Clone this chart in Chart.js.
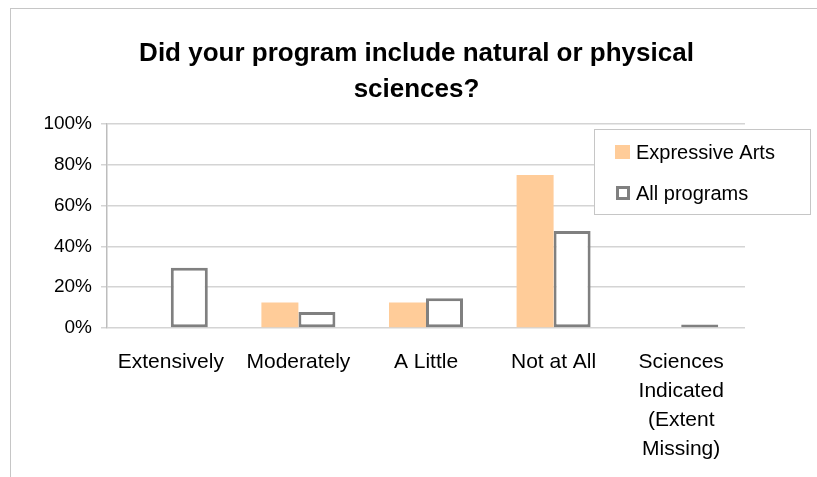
<!DOCTYPE html>
<html>
<head>
<meta charset="utf-8">
<script src="https://cdn.jsdelivr.net/npm/chart.js@4.4.1/dist/chart.umd.min.js"></script>
<style>
    html, body { margin: 0; padding: 0; background: #fff; }
    #wrap { position: relative; width: 817px; height: 477px; overflow: hidden; }
    #frame { position: absolute; left: 10px; top: 8px; width: 900px; height: 600px; border: 1px solid #c6c6c6; }
    canvas { position: absolute; left: 0; top: 0; }
</style>
</head>
<body>
<div id="wrap">
    <div id="frame"></div>
    <canvas id="chart" width="817" height="477"></canvas>
</div>
<script>
// Chart data
const categories = [
    'Extensively',
    'Moderately',
    'A Little',
    'Not at All',
    ['Sciences', 'Indicated', '(Extent', 'Missing)']
];
const seriesNames = ['Expressive Arts', 'All programs'];
const expressiveArts = [0, 12.5, 12.5, 75, 0];
const allPrograms = [29.5, 7.8, 14.6, 47.5, 1.7];
const yTicks = [0, 20, 40, 60, 80, 100];

const FONT = "'Liberation Sans', Arial, sans-serif";

// Legend box drawn inside the plot, like the original
const boxLegend = {
    id: 'boxLegend',
    afterDraw(chart) {
        const ctx = chart.ctx;
        const x = 594, y = 129, w = 216, h = 85;
        ctx.save();
        ctx.fillStyle = '#fff';
        ctx.fillRect(x, y, w, h);
        ctx.strokeStyle = '#c6c6c6';
        ctx.lineWidth = 1;
        ctx.strokeRect(x + 0.5, y + 0.5, w, h);

        ctx.font = '20px ' + FONT;
        ctx.textBaseline = 'middle';
        chart.data.datasets.forEach((ds, i) => {
            const cy = i === 0 ? 152 : 193;
            if (ds.borderWidth) {
                ctx.fillStyle = ds.backgroundColor;
                ctx.fillRect(616, cy - 7, 14, 14);
                ctx.strokeStyle = ds.borderColor;
                ctx.lineWidth = 3;
                ctx.strokeRect(617.5, cy - 5.5, 11, 11);
            } else {
                ctx.fillStyle = ds.backgroundColor;
                ctx.fillRect(615, cy - 7, 15, 14);
            }
            ctx.fillStyle = '#000';
            ctx.fillText(ds.label, 636, cy + 1);
        });
        ctx.restore();
    }
};

const ctx = document.getElementById('chart').getContext('2d');
new Chart(ctx, {
    type: 'bar',
    data: {
        labels: categories,
        datasets: [{
            label: seriesNames[0],
            data: expressiveArts,
            backgroundColor: '#FFCC99',
            borderWidth: 0
        }, {
            label: seriesNames[1],
            data: allPrograms,
            backgroundColor: '#ffffff',
            borderColor: '#808080',
            borderWidth: 3,
            borderSkipped: false
        }]
    },
    options: {
        responsive: false,
        animation: false,
        layout: { padding: { left: 16, right: 0, top: 0, bottom: 0 } },
        datasets: {
            bar: { barPercentage: 1, categoryPercentage: 0.58 }
        },
        plugins: {
            legend: { display: false },
            tooltip: { enabled: false },
            title: {
                display: true,
                text: ['Did your program include natural or physical', 'sciences?'],
                color: '#000',
                font: { family: FONT, size: 26, weight: 'bold', lineHeight: 36 / 26 },
                padding: { top: 36, bottom: 16 }
            }
        },
        scales: {
            x: {
                grid: { display: false, drawTicks: false },
                border: { display: false },
                ticks: {
                    color: '#000',
                    padding: 20,
                    maxRotation: 0,
                    autoSkip: false,
                    font: { family: FONT, size: 21, lineHeight: 29 / 21 }
                },
                afterFit(scale) { scale.height = 149; }
            },
            y: {
                min: 0,
                max: 100,
                afterBuildTicks(scale) { scale.ticks = yTicks.map(v => ({ value: v })); },
                grid: { color: '#d4d4d4', lineWidth: 1.5, tickLength: 6 },
                border: { color: '#bdbdbd', width: 1.5 },
                ticks: {
                    color: '#000',
                    padding: 9,
                    font: { family: FONT, size: 19 },
                    callback: v => v + '%'
                },
                afterFit(scale) { scale.width = 91; }
            },
            // empty right-hand axis that only reserves the space on the right
            yRight: {
                position: 'right',
                display: true,
                min: 0,
                max: 100,
                grid: { display: false, drawTicks: false },
                border: { display: false },
                ticks: { display: false },
                afterFit(scale) { scale.width = 72; }
            }
        }
    },
    plugins: [boxLegend]
});
</script>
</body>
</html>
